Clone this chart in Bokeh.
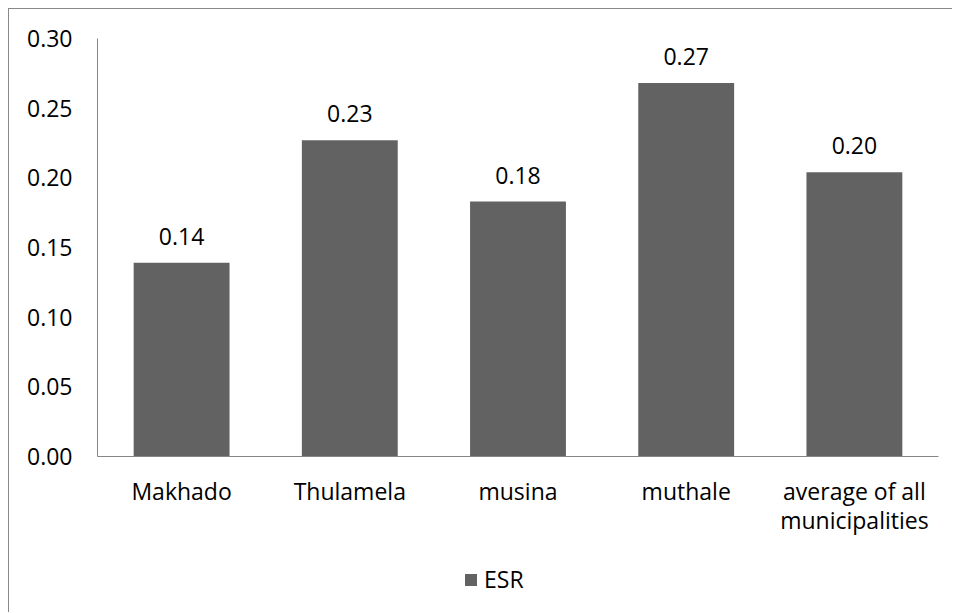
from bokeh.plotting import figure
from bokeh.layouts import column
from bokeh.models import (ColumnDataSource, FixedTicker, NumeralTickFormatter, Legend,
                          LegendItem, LabelSet, CategoricalAxis, FactorRange, Range1d)
from bokeh.core.properties import value
from bokeh.embed import file_html
from bokeh.resources import INLINE

categories = ["Makhado", "Thulamela", "musina", "muthale", "average of all municipalities"]
label_line1 = ["Makhado", "Thulamela", "musina", "muthale", "average of all"]
label_line2 = [" ", "  ", "   ", "    ", "municipalities"]
esr = [0.139, 0.227, 0.183, 0.268, 0.204]
y_ticks = [0.0, 0.05, 0.10, 0.15, 0.20, 0.25, 0.30]
series_name = "ESR"

FONT = "Open Sans"
FS = "23px"
BAR = "#626262"
AX = "#868686"
BORDER = "1px solid #888888"

src = ColumnDataSource(dict(cat=categories, val=esr, lab=[f"{v:.2f}" for v in esr]))

p = figure(x_range=FactorRange(factors=categories, range_padding=0), y_range=(0, 0.30),
           width=944, height=540, margin=(8, 0, 0, 8), x_axis_location=None,
           output_backend="svg", toolbar_location=None,
           min_border_left=88, min_border_right=15, min_border_top=29, min_border_bottom=93)
p.styles = {"border-left": BORDER, "border-top": BORDER}
p.extra_x_ranges = {"l1": FactorRange(factors=label_line1, range_padding=0),
                    "l2": FactorRange(factors=label_line2, range_padding=0)}
p.outline_line_color = None
p.xgrid.grid_line_color = None
p.ygrid.grid_line_color = None

r = p.vbar(x="cat", top="val", width=0.57, source=src, fill_color=BAR, line_color=None)

labels = LabelSet(x="cat", y="val", text="lab", source=src, text_align="center",
                  text_baseline="bottom", y_offset=18, text_font=value(FONT),
                  text_font_size=FS, text_color="#000000")
p.add_layout(labels)

p.yaxis.ticker = FixedTicker(ticks=y_ticks)
p.yaxis.formatter = NumeralTickFormatter(format="0.00")

ax1 = CategoricalAxis(x_range_name="l1")
ax2 = CategoricalAxis(x_range_name="l2")
p.add_layout(ax1, "below")
p.add_layout(ax2, "below")

for ax in (ax1, ax2, p.yaxis[0]):
    ax.axis_line_color = AX
    ax.axis_line_width = 1
    ax.major_tick_line_color = None
    ax.minor_tick_line_color = None
    ax.major_tick_out = 0
    ax.major_tick_in = 0
    ax.minor_tick_out = 0
    ax.major_label_text_font = FONT
    ax.major_label_text_font_size = FS
    ax.major_label_text_color = "#000000"
ax2.axis_line_color = None
ax2.major_label_standoff = -6
p.yaxis.major_label_standoff = 25
ax1.major_label_standoff = 18

# legend strip below the chart (its frame is aligned with the chart's frame by the column)
lg = figure(x_range=Range1d(0, 1), y_range=Range1d(0, 1), width=944, height=64,
            margin=(0, 0, 0, 8), output_backend="svg", toolbar_location=None,
            min_border=0, x_axis_location=None, y_axis_location=None)
lg.styles = {"border-left": BORDER}
lg.outline_line_color = None
lg.xgrid.grid_line_color = None
lg.ygrid.grid_line_color = None
key_src = ColumnDataSource(dict(x=[-10.0], top=[0.0]))
key = lg.vbar(x="x", top="top", width=0.5, source=key_src, fill_color=BAR, line_color=None)

legend = Legend(items=[LegendItem(label=series_name, renderers=[key])],
                location=(366, 17), orientation="horizontal",
                border_line_color=None, background_fill_alpha=0,
                label_text_font=FONT, label_text_font_size=FS, label_text_color="#000000",
                glyph_width=15, glyph_height=15, label_standoff=6,
                padding=0, margin=0)
lg.add_layout(legend, "center")

page = column(p, lg, spacing=0)
open("out.html", "w").write(file_html(page, INLINE))
